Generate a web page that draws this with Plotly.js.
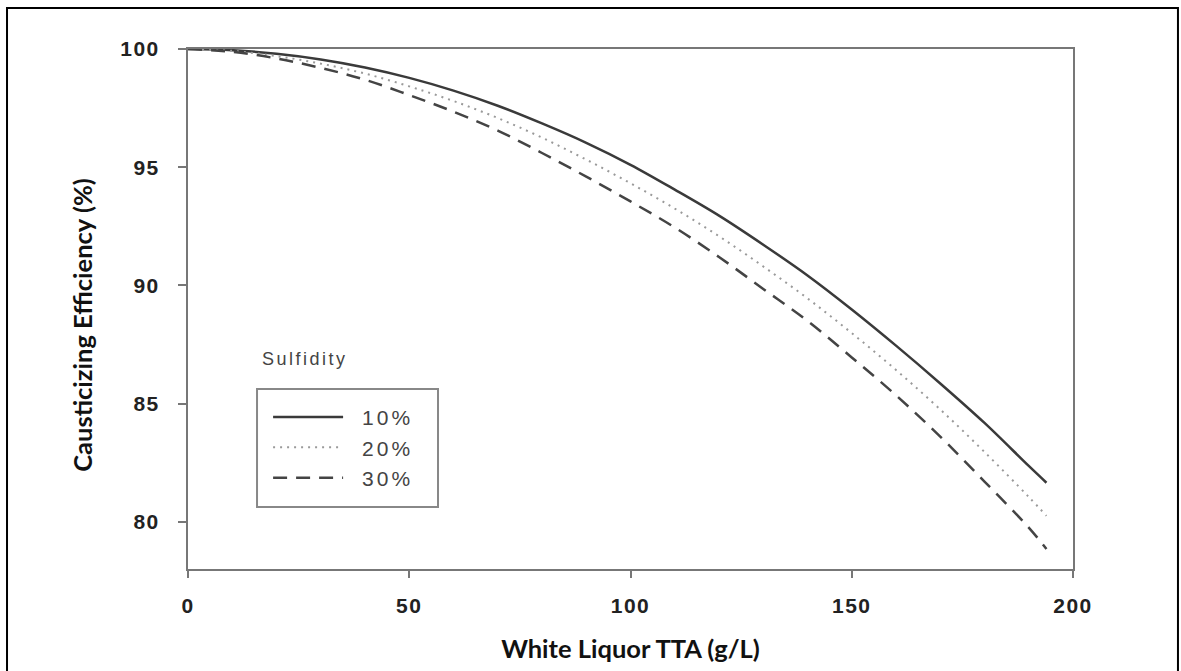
<!DOCTYPE html>
<html>
<head>
<meta charset="utf-8">
<script src="https://cdn.plot.ly/plotly-3.0.1.min.js"></script>
<style>
  html, body { margin: 0; padding: 0; background: #fff; }
  #chart { width: 1181px; height: 671px; }
  .xtick text, .ytick text { letter-spacing: 1.5px; }
  .legend .scrollbox { clip-path: none !important; }
  .legendtext { letter-spacing: 3px; transform: translate(14px, 0px); }
  .annotation-text { letter-spacing: 2.5px; }
  .g-ytitle { transform: translate(0px, 16px); }
</style>
</head>
<body>
<div id="chart"></div>
<script>
// White liquor TTA (g/L)
const tta = [0, 10, 20, 30, 40, 50, 60, 70, 80, 90, 100, 110, 120, 130, 140, 150, 160, 170, 180, 190, 194];
// Causticizing efficiency (%) by sulfidity
const eff10 = [100, 99.95, 99.8, 99.56, 99.22, 98.78, 98.24, 97.6, 96.85, 96.03, 95.1, 94.05, 92.95, 91.72, 90.42, 88.98, 87.45, 85.85, 84.18, 82.36, 81.65];
const eff20 = [100, 99.92, 99.7, 99.38, 98.96, 98.42, 97.8, 97.08, 96.25, 95.32, 94.32, 93.25, 92.08, 90.8, 89.45, 87.98, 86.42, 84.75, 82.95, 81.05, 80.25];
const eff30 = [100, 99.88, 99.6, 99.2, 98.7, 98.05, 97.35, 96.55, 95.6, 94.6, 93.55, 92.45, 91.2, 89.85, 88.5, 86.95, 85.35, 83.6, 81.7, 79.75, 78.85];
const seriesNames = ['10%', '20%', '30%'];
const xTicks = [0, 50, 100, 150, 200];
const yTicks = [80, 85, 90, 95, 100];

const traces = [
  { x: tta, y: eff10, name: seriesNames[0], mode: 'lines', line: { color: '#3a3a3a', width: 2.5, dash: 'solid', shape: 'spline' } },
  { x: tta, y: eff20, name: seriesNames[1], mode: 'lines', line: { color: '#9a9a9a', width: 2, dash: '2px,5px', shape: 'spline' } },
  { x: tta, y: eff30, name: seriesNames[2], mode: 'lines', line: { color: '#444444', width: 2.5, dash: '14px,9px', shape: 'spline' } }
];

const tickFont = { family: 'Liberation Sans, Arial, sans-serif', size: 21, color: '#222', weight: 'bold' };
const titleFont = { family: 'Lato, sans-serif', size: 25.5, color: '#111', weight: 'bold' };

const layout = {
  width: 1181, height: 671,
  margin: { l: 188, r: 108, t: 49, b: 102 },
  paper_bgcolor: '#fff', plot_bgcolor: '#fff',
  showlegend: true,
  xaxis: {
    range: [0, 200], tickvals: xTicks, ticktext: xTicks.map(String),
    ticks: 'outside', ticklen: 7, tickwidth: 2, tickcolor: '#777',
    showline: true, linecolor: '#777', linewidth: 2, mirror: true,
    showgrid: false, zeroline: false, tickfont: tickFont,
    ticklabelstandoff: 10,
    title: { text: 'White Liquor TTA (g/L)', font: titleFont, standoff: 24 },
    fixedrange: true
  },
  yaxis: {
    range: [78, 100], tickvals: yTicks, ticktext: yTicks.map(String),
    ticks: 'outside', ticklen: 8, tickwidth: 2, tickcolor: '#777',
    showline: true, linecolor: '#777', linewidth: 2, mirror: true,
    showgrid: false, zeroline: false, tickfont: tickFont,
    ticklabelstandoff: 14,
    title: { text: 'Causticizing Efficiency (%)', font: titleFont, standoff: 20 },
    fixedrange: true
  },
  legend: {
    x: 0.0905, y: 0.331, xanchor: 'left', yanchor: 'top',
    bgcolor: 'rgba(0,0,0,0)', borderwidth: 0,
    font: { family: 'Liberation Sans, Arial, sans-serif', size: 21, color: '#444' },
    itemwidth: 70, traceorder: 'normal'
  },
  annotations: [
    { text: 'Sulfidity', xref: 'paper', yref: 'paper', x: 0.081, y: 0.404, xanchor: 'left', yanchor: 'middle',
      showarrow: false, font: { family: 'Liberation Sans, Arial, sans-serif', size: 18, color: '#444' } }
  ],
  shapes: [
    { type: 'rect', xref: 'paper', yref: 'paper', x0: -0.2045, x1: 1.1186, y0: -0.204, y1: 1.0788,
      line: { color: '#000', width: 2 }, fillcolor: 'rgba(0,0,0,0)', layer: 'below' },
    { type: 'rect', xref: 'paper', yref: 'paper', x0: 0.078, x1: 0.2825, y0: 0.1192, y1: 0.3462,
      line: { color: '#888', width: 2 }, fillcolor: 'rgba(0,0,0,0)', layer: 'below' }
  ]
};

Plotly.newPlot('chart', traces, layout, { displayModeBar: false, staticPlot: true });
</script>
</body>
</html>
